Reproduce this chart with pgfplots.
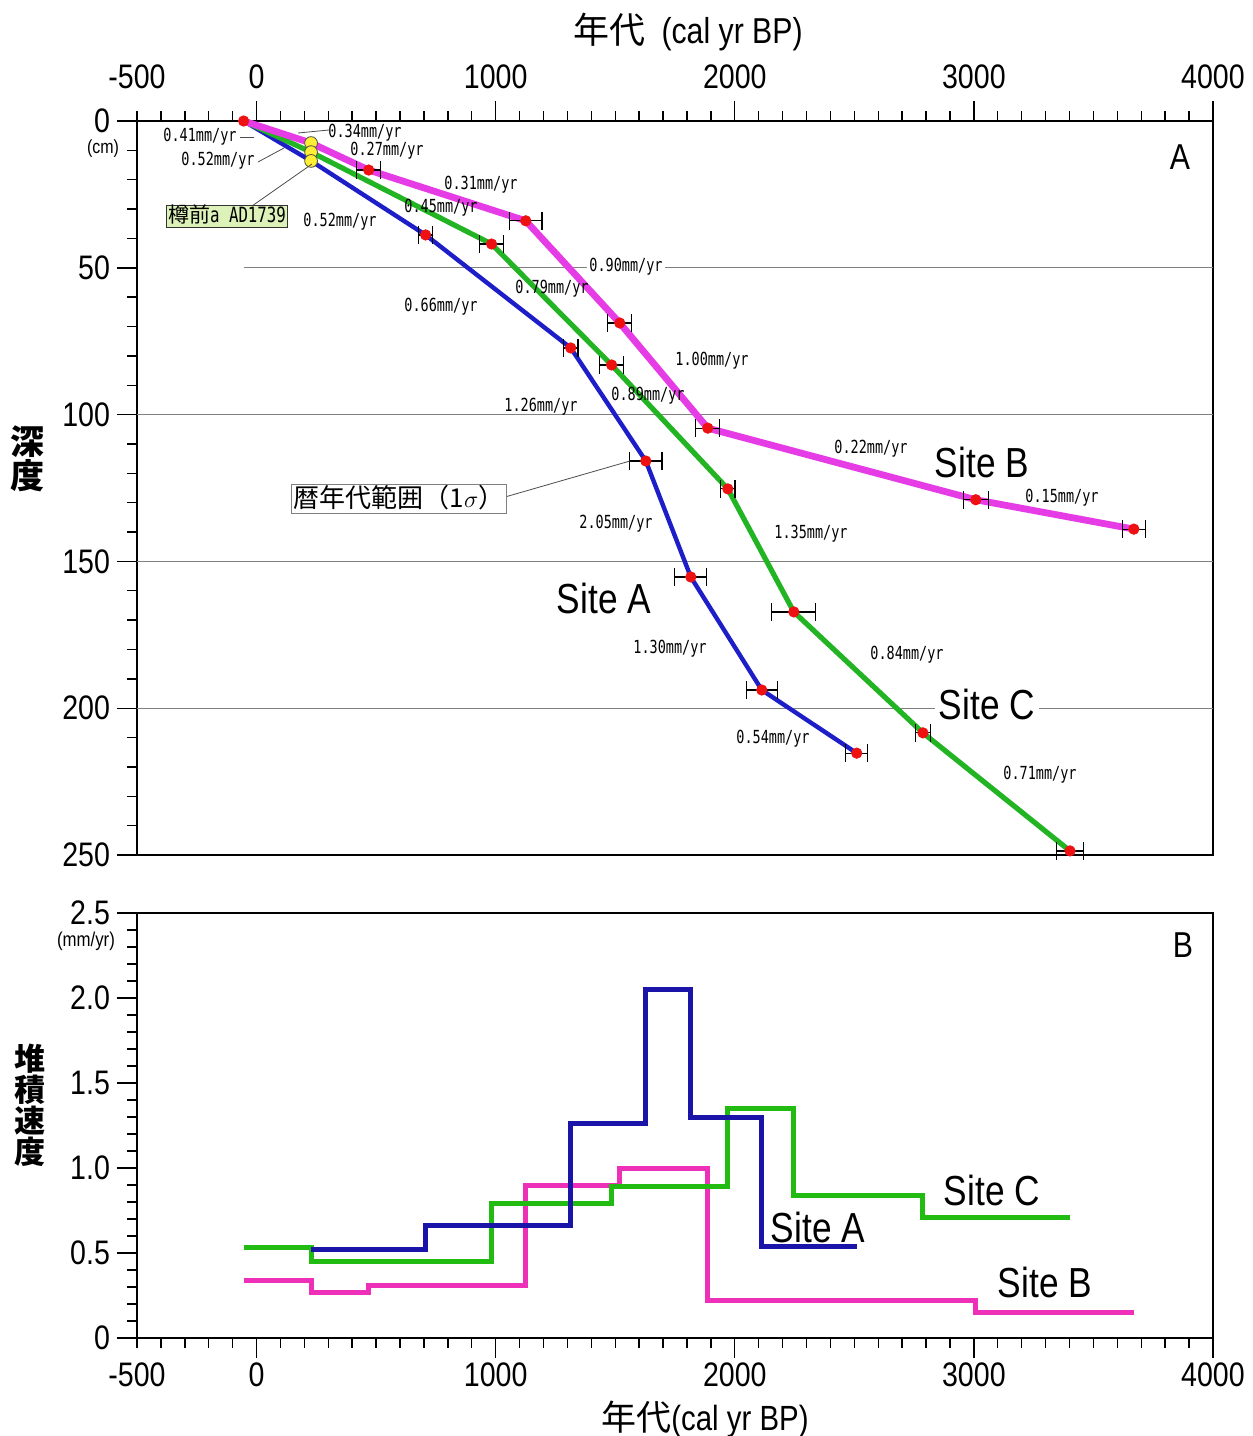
\documentclass[border=0pt]{standalone}
\usepackage{fontspec}
\usepackage{pgfplots}
\usepackage{pgfplotstable}
\pgfplotsset{compat=1.18}
\setmainfont{Liberation Sans}[FakeStretch=0.84]
\newfontfamily\jp{Noto Sans CJK JP}
\newfontfamily\rf{DejaVu Sans Mono}[FakeStretch=0.75]
\newcommand\fs[1]{\fontsize{#1}{#1}\selectfont}
\definecolor{cB}{HTML}{E63CE6}
\definecolor{cC}{HTML}{22B422}
\definecolor{cA}{HTML}{1E1EC8}
\definecolor{bB}{HTML}{EE30B8}
\definecolor{bC}{HTML}{22BB11}
\definecolor{bA}{HTML}{1A14A8}
\definecolor{dot}{HTML}{EE1111}
\definecolor{ylw}{HTML}{FFEE33}
\definecolor{lgreen}{HTML}{DDF2B8}

% depth-age lines
\pgfplotstableread{
x d
-54 0
228 7.5
469 16.7
1126 34
1519 68.8
1887 104.6
3008 129
3669 139
}\siteB
\pgfplotstableread{
x d
-54 0
228 13.6
707 38.8
1314 77.3
1628 115.8
1816 155.3
2113 193.8
2510 215.3
}\siteA
\pgfplotstableread{
x d
-54 0
228 10.6
983 41.9
1485 83.1
1971 125.3
2247 167.2
2787 208.4
3402 248.6
}\siteC
% dated points with 1 sigma range
\pgfplotstableread{
x d ex
469 16.7 50
1126 34 68
1519 68.8 50
1887 104.6 50
3008 129 52
3669 139 48
707 38.8 30
1314 77.3 30
1628 115.8 68
1816 155.3 67
2113 193.8 65
2510 215.3 46
983 41.9 50
1485 83.1 50
1971 125.3 30
2247 167.2 92
2787 208.4 32
3402 248.6 55
}\dated
% accumulation rates
\pgfplotstableread{
x r
-54 0.34
228 0.27
469 0.31
1126 0.90
1519 1.00
1887 0.22
3008 0.15
3669 0.15
}\rateB
\pgfplotstableread{
x r
228 0.52
707 0.66
1314 1.26
1628 2.05
1816 1.30
2113 0.54
2510 0.54
}\rateA
\pgfplotstableread{
x r
-54 0.53
228 0.45
983 0.79
1485 0.89
1971 1.35
2247 0.84
2787 0.71
3402 0.71
}\rateC

\pgfplotsset{
  common/.style={
    scale only axis, width=538pt,
    xmin=-500, xmax=4000,
    xtick={0,1000,2000,3000,4000}, xticklabels={0,1000,2000,3000,4000},
    extra x ticks={-500}, extra x tick labels={-500},
    minor xtick={-400,-300,-200,-100,100,200,300,400,500,600,700,800,900,1100,1200,1300,1400,1500,1600,1700,1800,1900,2100,2200,2300,2400,2500,2600,2700,2800,2900,3100,3200,3300,3400,3500,3600,3700,3800,3900},
    tick align=outside, major tick length=10pt, minor tick length=5pt,
    tick style={black, line width=0.7pt},
    axis line style={black, line width=1.1pt},
    ticklabel style={font=\fs{17}},
    /pgf/number format/assume math mode=true,
    clip=false,
  }
}

\begin{document}
\begin{tikzpicture}
% ---------------- panel A ----------------
\begin{axis}[common,
  at={(0,0)}, anchor=north west, height=367pt,
  ymin=0, ymax=250, y dir=reverse,
  ytick={0,50,100,150,200,250}, yticklabels={0,50,100,150,200,250},
  minor ytick={10,20,30,40,60,70,80,90,110,120,130,140,160,170,180,190,210,220,230,240},
  xtick pos=right, xticklabel pos=right, ytick pos=left, yticklabel pos=left,
  xticklabel style={yshift=2.5pt},
  extra x tick style={major tick length=5pt, xticklabel style={yshift=5pt}},
]
\draw[gray, line width=0.6pt] (axis cs:-54,50) -- (axis cs:4000,50);
\draw[gray, line width=0.6pt] (axis cs:-500,100) -- (axis cs:4000,100);
\draw[gray, line width=0.6pt] (axis cs:-500,150) -- (axis cs:4000,150);
\draw[gray, line width=0.6pt] (axis cs:-500,200) -- (axis cs:4000,200);
\addplot[cA, line width=2.2pt, mark=none] table[x=x,y=d]{\siteA};
\addplot[cC, line width=2.6pt, mark=none] table[x=x,y=d]{\siteC};
\addplot[cB, line width=3.4pt, mark=none] table[x=x,y=d]{\siteB};
\addplot[only marks, mark=*, mark size=2.6pt, color=dot,
  error bars/.cd, x dir=both, x explicit,
  error mark=|,
  error bar style={black, line width=0.6pt},
  error mark options={black, line width=0.6pt, mark size=4.5pt}]
  table[x=x, y=d, x error=ex]{\dated};
\addplot[only marks, mark=*, mark size=2.6pt, color=dot] coordinates {(-54,0)};
\addplot[only marks, mark=*, mark size=3.2pt, draw=black!70, fill=ylw, line width=0.4pt]
  coordinates {(228,7.5) (228,10.6) (228,13.6)};
\end{axis}

% ---------------- panel B ----------------
\begin{axis}[common,
  at={(0,-396pt)}, anchor=north west, height=212.5pt,
  ymin=0, ymax=2.5,
  ytick={0,0.5,1,1.5,2,2.5}, yticklabels={0,0.5,1.0,1.5,2.0,2.5},
  minor ytick={0.1,0.2,0.3,0.4,0.6,0.7,0.8,0.9,1.1,1.2,1.3,1.4,1.6,1.7,1.8,1.9,2.1,2.2,2.3,2.4},
  xtick pos=left, xticklabel pos=left, ytick pos=left, yticklabel pos=left,
  xticklabel style={yshift=-1pt, inner ysep=1pt},
  extra x tick style={major tick length=5pt, xticklabel style={yshift=-5pt}},
]
\addplot[bB, line width=2.5pt, const plot, mark=none] table[x=x,y=r]{\rateB};
\addplot[bC, line width=2.5pt, const plot, mark=none] table[x=x,y=r]{\rateC};
\addplot[bA, line width=2.5pt, const plot, mark=none] table[x=x,y=r]{\rateA};
\end{axis}

% ---------------- annotations (pixel grid of the reference) ----------------
\begin{scope}[x=0.5pt, y=-0.5pt, shift={(-68.5pt,60.5pt)}]
\node at (688,32) {\fs{18}{\jp 年代}\hspace{0.45em}(cal yr BP)};
\node[inner sep=0pt] at (705,1419) {\fs{17.5}{\jp 年代}(cal yr BP)};
\node[inner sep=0pt] at (103,149) {\fs{9.5}(cm)};
\node[inner sep=0pt] at (86,941) {\fs{10}(mm/yr)};
\node[align=center, inner sep=0pt, font={\fs{17}\jp\bfseries}] at (28,459) {深\\度};
\node[align=center, inner sep=0pt, font={\fs{15.5}\jp\bfseries}] at (30,1105) {堆\\積\\速\\度};
\node at (1180,157) {\fs{18}A};
\node at (1183,945) {\fs{18}B};
% site names
\node at (604,598) {\fs{21}Site A};
\node at (982,462) {\fs{21}Site B};
\node[fill=white, inner sep=2pt] at (987,704) {\fs{21}Site C};
\node at (818,1227) {\fs{21}Site A};
\node at (1045,1282) {\fs{21}Site B};
\node at (992,1190) {\fs{21}Site C};
% leader lines
\draw[black!70, line width=0.4pt] (240,137) -- (254,137);
\draw[black!70, line width=0.4pt] (298,133) -- (329,130);
\draw[black!70, line width=0.4pt] (258,162) -- (284,148);
\draw[black!70, line width=0.4pt] (252,206) -- (312,164);
\draw[black!70, line width=0.4pt] (505,497) -- (630,461);
% rate labels
\begin{scope}[every node/.style={font=\rf\fs{9}, inner sep=1pt}]
\node at (200,137) {0.41mm/yr};
\node at (365,133) {0.34mm/yr};
\node at (218,161) {0.52mm/yr};
\node at (387,151) {0.27mm/yr};
\node at (481,185) {0.31mm/yr};
\node at (441,208) {0.45mm/yr};
\node at (340,222) {0.52mm/yr};
\node[fill=white] at (626,267) {0.90mm/yr};
\node at (552,289) {0.79mm/yr};
\node at (441,307) {0.66mm/yr};
\node at (712,361) {1.00mm/yr};
\node at (648,396) {0.89mm/yr};
\node at (541,407) {1.26mm/yr};
\node at (871,449) {0.22mm/yr};
\node at (1062,498) {0.15mm/yr};
\node at (616,524) {2.05mm/yr};
\node at (811,534) {1.35mm/yr};
\node at (670,649) {1.30mm/yr};
\node at (907,655) {0.84mm/yr};
\node at (773,739) {0.54mm/yr};
\node at (1040,775) {0.71mm/yr};
\end{scope}
% boxes
\node[draw=black!80, line width=0.5pt, fill=lgreen, inner sep=1pt, text height=7.5pt, text depth=1.5pt]
  at (227,216) {{\jp\fs{10.5}樽前}{\rf\fs{10.5}a AD1739}};
\node[draw=black!50, line width=0.5pt, fill=white, inner sep=1pt, text height=10.5pt, text depth=2pt]
  at (399,499) {\fs{13}{\jp 暦年代範囲（1}$\sigma${\jp ）}};
\pgfresetboundingbox
\path[use as bounding box] (0,0) rectangle (1253,1436);
\end{scope}
\end{tikzpicture}
\end{document}
